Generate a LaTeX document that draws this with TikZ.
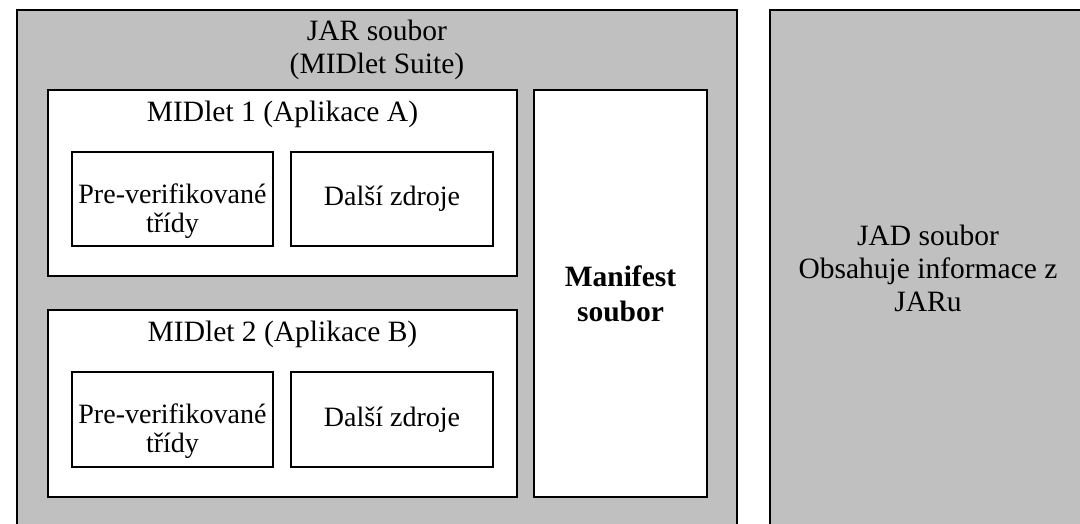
\documentclass[tikz,border=0pt]{standalone}
\usepackage{fontspec}
\setmainfont{Liberation Serif}
\begin{document}
\begin{tikzpicture}[x=1pt,y=-1pt,
  every node/.style={font=\fontsize{28}{29}\selectfont},
  big/.style={font=\fontsize{29.5}{33}\selectfont},
  outer/.style={draw=black, line width=2pt, fill=suitegray, rectangle, inner sep=0pt},
  box/.style={draw=black, line width=2pt, fill=white, rectangle, inner sep=0pt, align=center},
  caption/.style={inner sep=0pt, align=center}]
\definecolor{suitegray}{HTML}{C0C0C0}
\useasboundingbox (0,0) rectangle (1080,523);
\fill[white] (0,0) rectangle (1080,523);
\clip (0,0) rectangle (1080,523);

% JAR archive (the MIDlet suite)
\node[outer, minimum width=720, minimum height=540] (jar) at (377,280) {};
\node[caption, big, anchor=base] (jartitle) at (377,73) {JAR soubor\\(MIDlet Suite)};

% first MIDlet
\node[box, minimum width=469, minimum height=186] (m1) at (282.5,183) {};
\node[caption, big, anchor=base] (m1title) at (282.5,121) {MIDlet 1 (Aplikace A)};
\node[box, minimum width=201, minimum height=94] (cls1) at (172.5,199) {};
\node[caption, anchor=base] (cls1text) at (172.5,232) {Pre-verifikované\\třídy};
\node[box, minimum width=202, minimum height=94] (res1) at (392,199) {Další zdroje};

% second MIDlet
\node[box, minimum width=469, minimum height=187] (m2) at (282.5,403.5) {};
\node[caption, big, anchor=base] (m2title) at (282.5,341) {MIDlet 2 (Aplikace B)};
\node[box, minimum width=201, minimum height=95] (cls2) at (172.5,419.5) {};
\node[caption, anchor=base] (cls2text) at (172.5,452) {Pre-verifikované\\třídy};
\node[box, minimum width=202, minimum height=95] (res2) at (392,419.5) {Další zdroje};

% manifest
\node[box, minimum width=173, minimum height=407, font=\fontsize{29.5}{35}\selectfont\bfseries] (mf) at (620.5,293.5) {Manifest\\soubor};

% JAD descriptor
\node[outer, minimum width=320, minimum height=540] (jad) at (930,280) {};
\node[caption, big] (jadtext) at (928,268) {JAD soubor\\Obsahuje informace z\\JARu};
\end{tikzpicture}
\end{document}
